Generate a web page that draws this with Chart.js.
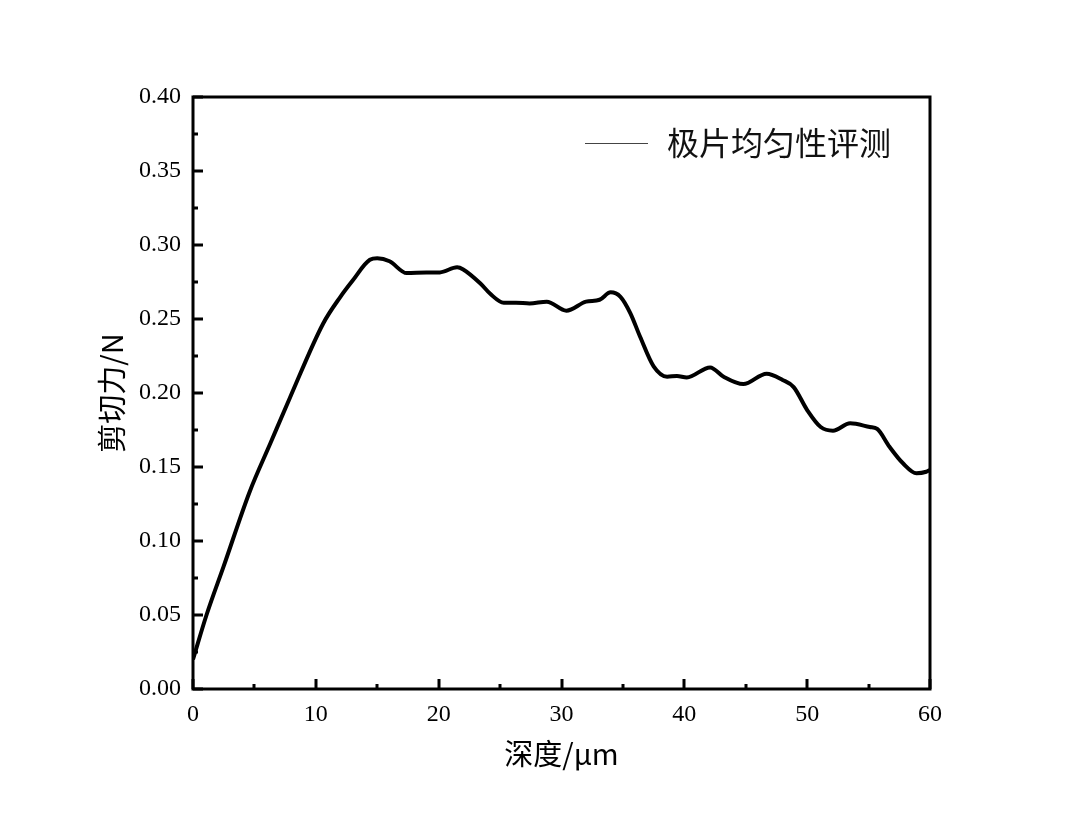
<!DOCTYPE html>
<html>
<head>
<meta charset="utf-8">
<script src="https://cdn.jsdelivr.net/npm/chart.js@4/dist/chart.umd.min.js"></script>
<style>
  body { margin: 0; background: #fff; }
  #wrap { width: 1080px; height: 827px; }
</style>
</head>
<body>
<div id="wrap"><canvas id="shearChart" width="1080" height="827"></canvas></div>
<script>
// depth (µm) and shear force (N)
const depth = [0, 1.1, 2.5, 4.6, 6.3, 7.9, 10.6, 12.0, 13.0, 14.4, 15.0, 16.0, 17.4, 19.0, 20.1,
  21.5, 22.0, 23.4, 24.2, 25.3, 26.3, 27.4, 28.8, 30.4, 32.0, 33.1, 34.0, 34.8, 35.6, 36.4, 37.5,
  38.6, 39.4, 40.2, 42.1, 43.2, 44.8, 46.7, 48.0, 48.9, 50.0, 51.1, 52.1, 53.5, 55.1, 55.7, 56.7,
  57.8, 58.9, 59.7, 60];
const shear = [0.020, 0.050, 0.083, 0.133, 0.166, 0.197, 0.247, 0.265, 0.276, 0.290, 0.291,
  0.289, 0.281, 0.2815, 0.2815, 0.285, 0.2835, 0.274, 0.267, 0.261, 0.261, 0.2605, 0.2617, 0.2556,
  0.2617, 0.263, 0.268, 0.265, 0.254, 0.238, 0.218, 0.211, 0.2115, 0.2105, 0.2173, 0.211, 0.206,
  0.213, 0.2088, 0.204, 0.1885, 0.177, 0.1745, 0.1795, 0.177, 0.1757, 0.1637, 0.1525, 0.1458,
  0.1468, 0.148];
const seriesLabel = '极片均匀性评测';
const xTitle = '深度/μm';
const yTitle = '剪切力/N';
const xTicks = { min: 0, max: 60, step: 10 };
const yTicks = { min: 0, max: 0.4, step: 0.05 };

const numFont = { family: '"Liberation Serif", "DejaVu Serif", serif', size: 24 };
const cjkFont = { family: '"Noto Sans CJK SC", "Liberation Serif", sans-serif', size: 28 };

// box, inward ticks and legend drawn over the plot
const frame = {
  id: 'frame',
  afterDraw(chart) {
    const { ctx, chartArea: a, scales: { x, y } } = chart;
    ctx.save();
    ctx.strokeStyle = '#000';
    ctx.lineWidth = 3;
    ctx.strokeRect(a.left, a.top, a.right - a.left, a.bottom - a.top);

    ctx.beginPath();
    for (let v = yTicks.min; v <= yTicks.max + 1e-9; v += yTicks.step / 2) {
      const major = Math.abs(v / yTicks.step - Math.round(v / yTicks.step)) < 1e-6;
      const py = Math.round(y.getPixelForValue(v));
      ctx.moveTo(a.left, py);
      ctx.lineTo(a.left + (major ? 10 : 5), py);
    }
    for (let v = xTicks.min; v <= xTicks.max; v += xTicks.step / 2) {
      const major = v % xTicks.step === 0;
      const px = Math.round(x.getPixelForValue(v));
      ctx.moveTo(px, a.bottom);
      ctx.lineTo(px, a.bottom - (major ? 10 : 5));
    }
    ctx.stroke();

    // legend
    ctx.strokeStyle = '#444';
    ctx.lineWidth = 1;
    ctx.beginPath();
    ctx.moveTo(585, 143.5);
    ctx.lineTo(648, 143.5);
    ctx.stroke();
    ctx.fillStyle = '#111';
    ctx.font = '32px ' + cjkFont.family;
    ctx.textBaseline = 'middle';
    ctx.fillText(chart.data.datasets[0].label, 667, 143);
    ctx.restore();
  }
};

new Chart(document.getElementById('shearChart'), {
  type: 'line',
  data: {
    datasets: [{
      label: seriesLabel,
      data: depth.map((d, i) => ({ x: d, y: shear[i] })),
      borderColor: '#000',
      borderWidth: 4,
      pointRadius: 0,
      cubicInterpolationMode: 'monotone',
      fill: false,
    }],
  },
  options: {
    responsive: false,
    animation: false,
    devicePixelRatio: 1,
    layout: { padding: { top: 97, right: 150, left: 0, bottom: 0 } },
    plugins: { legend: { display: false }, tooltip: { enabled: false } },
    scales: {
      x: {
        type: 'linear', min: xTicks.min, max: xTicks.max,
        grid: { display: false, drawTicks: false },
        border: { display: false },
        ticks: { stepSize: xTicks.step, color: '#000', font: numFont, padding: 11, maxRotation: 0 },
        title: { display: true, text: xTitle, color: '#000', font: { ...cjkFont, size: 29 }, padding: { top: 0, bottom: 56 } },
        afterFit: s => { s.height = 138; },
      },
      y: {
        type: 'linear', min: yTicks.min, max: yTicks.max,
        grid: { display: false, drawTicks: false },
        border: { display: false },
        ticks: { stepSize: yTicks.step, color: '#000', font: numFont, padding: 12,
          callback: v => v.toFixed(2) },
        title: { display: true, text: yTitle, color: '#000', font: { ...cjkFont, size: 29 }, padding: { top: 95, bottom: 0 } },
        afterFit: s => { s.width = 193; },
      },
    },
  },
  plugins: [frame],
});
</script>
</body>
</html>
